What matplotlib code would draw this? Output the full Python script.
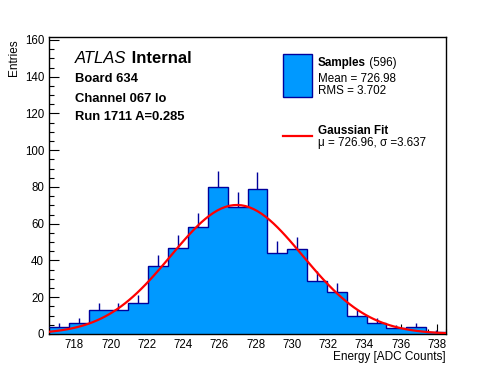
import matplotlib
matplotlib.use("Agg")
import matplotlib.pyplot as plt
from matplotlib.patches import Rectangle
from matplotlib.lines import Line2D
from matplotlib.ticker import MultipleLocator
import numpy as np

# ---------------- data ----------------
bin_lo = 716.6
bin_hi = 738.5
counts = [4, 6, 13, 13, 17, 37, 47, 58, 80, 69, 79, 44, 46, 29, 23, 10, 6, 3, 4, 1]
fit_mu = 726.96
fit_sigma = 3.637
fit_amp = 70.2
x_ticks = [718, 720, 722, 724, 726, 728, 730, 732, 734, 736, 738]
y_ticks = [0, 20, 40, 60, 80, 100, 120, 140, 160]
y_max = 161.6

header_lines = ["Board 634", "Channel 067 lo", "Run 1711 A=0.285"]
legend_samples = ("Samples", " (596)")
legend_stats = ["Mean = 726.98", "RMS = 3.702"]
legend_fit = ("Gaussian Fit", "\u03bc = 726.96, \u03c3 =3.637")
x_label = "Energy [ADC Counts]"
y_label = "Entries"

# ---------------- style ----------------
FONT = "Liberation Sans"
plt.rcParams['font.family'] = [FONT, 'DejaVu Sans']
W, H = 496, 372
fill_col = "#0099ff"
edge_col = "#00009c"

fig = plt.figure(figsize=(W / 100, H / 100), dpi=100)
L, R, B, T = 49, 446, 334, 37
ax = fig.add_axes([L / W, 1 - B / H, (R - L) / W, (B - T) / H])

edges = np.linspace(bin_lo, bin_hi, len(counts) + 1)
centers = 0.5 * (edges[:-1] + edges[1:])
cnt = np.array(counts, dtype=float)

ax.stairs(cnt, edges, fill=True, facecolor=fill_col, edgecolor='none', zorder=2)
ax.stairs(cnt, edges, fill=False, color=edge_col, lw=1.0, zorder=3, baseline=None)
ax.vlines(centers, cnt, cnt + np.sqrt(cnt), color=edge_col, lw=1.0, zorder=3)

xf = np.linspace(bin_lo, bin_hi, 100)
yf = fit_amp * np.exp(-0.5 * ((xf - fit_mu) / fit_sigma) ** 2)
ax.plot(xf, yf, color='red', lw=1.6, zorder=4)

ax.set_xlim(bin_lo, bin_hi)
ax.set_ylim(0, y_max)
ax.set_xticks(x_ticks)
ax.set_yticks(y_ticks)
ax.xaxis.set_minor_locator(MultipleLocator(0.5))
ax.yaxis.set_minor_locator(MultipleLocator(5))
ax.tick_params(which='both', direction='in', top=False, right=False,
               labelsize=8.3, width=0.8, colors='black')
ax.tick_params(which='major', length=7.0, pad=3.5)
ax.tick_params(which='minor', length=3.6)
for s in ax.spines.values():
    s.set_linewidth(1.0)


def fx(x):
    return x / W


def fy(y):
    return 1 - y / H


# axis titles
fig.text(fx(446), fy(360), x_label, ha='right', va='baseline', fontsize=8.5)
fig.text(fx(13.5), fy(39), y_label, ha='center', va='top', rotation=90, fontsize=8.5)

# ATLAS Internal
fig.canvas.draw()
r = fig.canvas.get_renderer()
t1 = fig.text(fx(75), fy(63), "ATLAS", style='italic', fontsize=12.0, va='baseline')
bb = t1.get_window_extent(renderer=r)
fig.text(bb.x1 / W, fy(63), " Internal", weight='bold', fontsize=12.0, va='baseline')
for txt, yb in zip(header_lines, [82.5, 101.5, 119.5]):
    fig.text(fx(75), fy(yb), txt, weight='bold', fontsize=9.4, va='baseline')

# legend
LF = 8.4
fig.patches.append(Rectangle((fx(283.3), fy(97)), (311.7 - 283.3) / W, (97 - 53.5) / H,
                             transform=fig.transFigure, facecolor=fill_col,
                             edgecolor=edge_col, lw=1.0))
fig.lines.append(Line2D([fx(283.3), fx(311.7)], [fy(136), fy(136)],
                        transform=fig.transFigure, color='red', lw=1.6))
t2 = fig.text(fx(318), fy(66), legend_samples[0], weight='bold', fontsize=LF, va='baseline')
bb = t2.get_window_extent(renderer=r)
fig.text(bb.x1 / W, fy(66), legend_samples[1], fontsize=LF, va='baseline')
for txt, yb in zip(legend_stats, [81.5, 94.5]):
    fig.text(fx(318), fy(yb), txt, fontsize=LF, va='baseline')
fig.text(fx(318), fy(134), legend_fit[0], weight='bold', fontsize=LF, va='baseline')
fig.text(fx(318), fy(146), legend_fit[1], fontsize=LF, va='baseline')

fig.savefig("out.png", dpi=100)
